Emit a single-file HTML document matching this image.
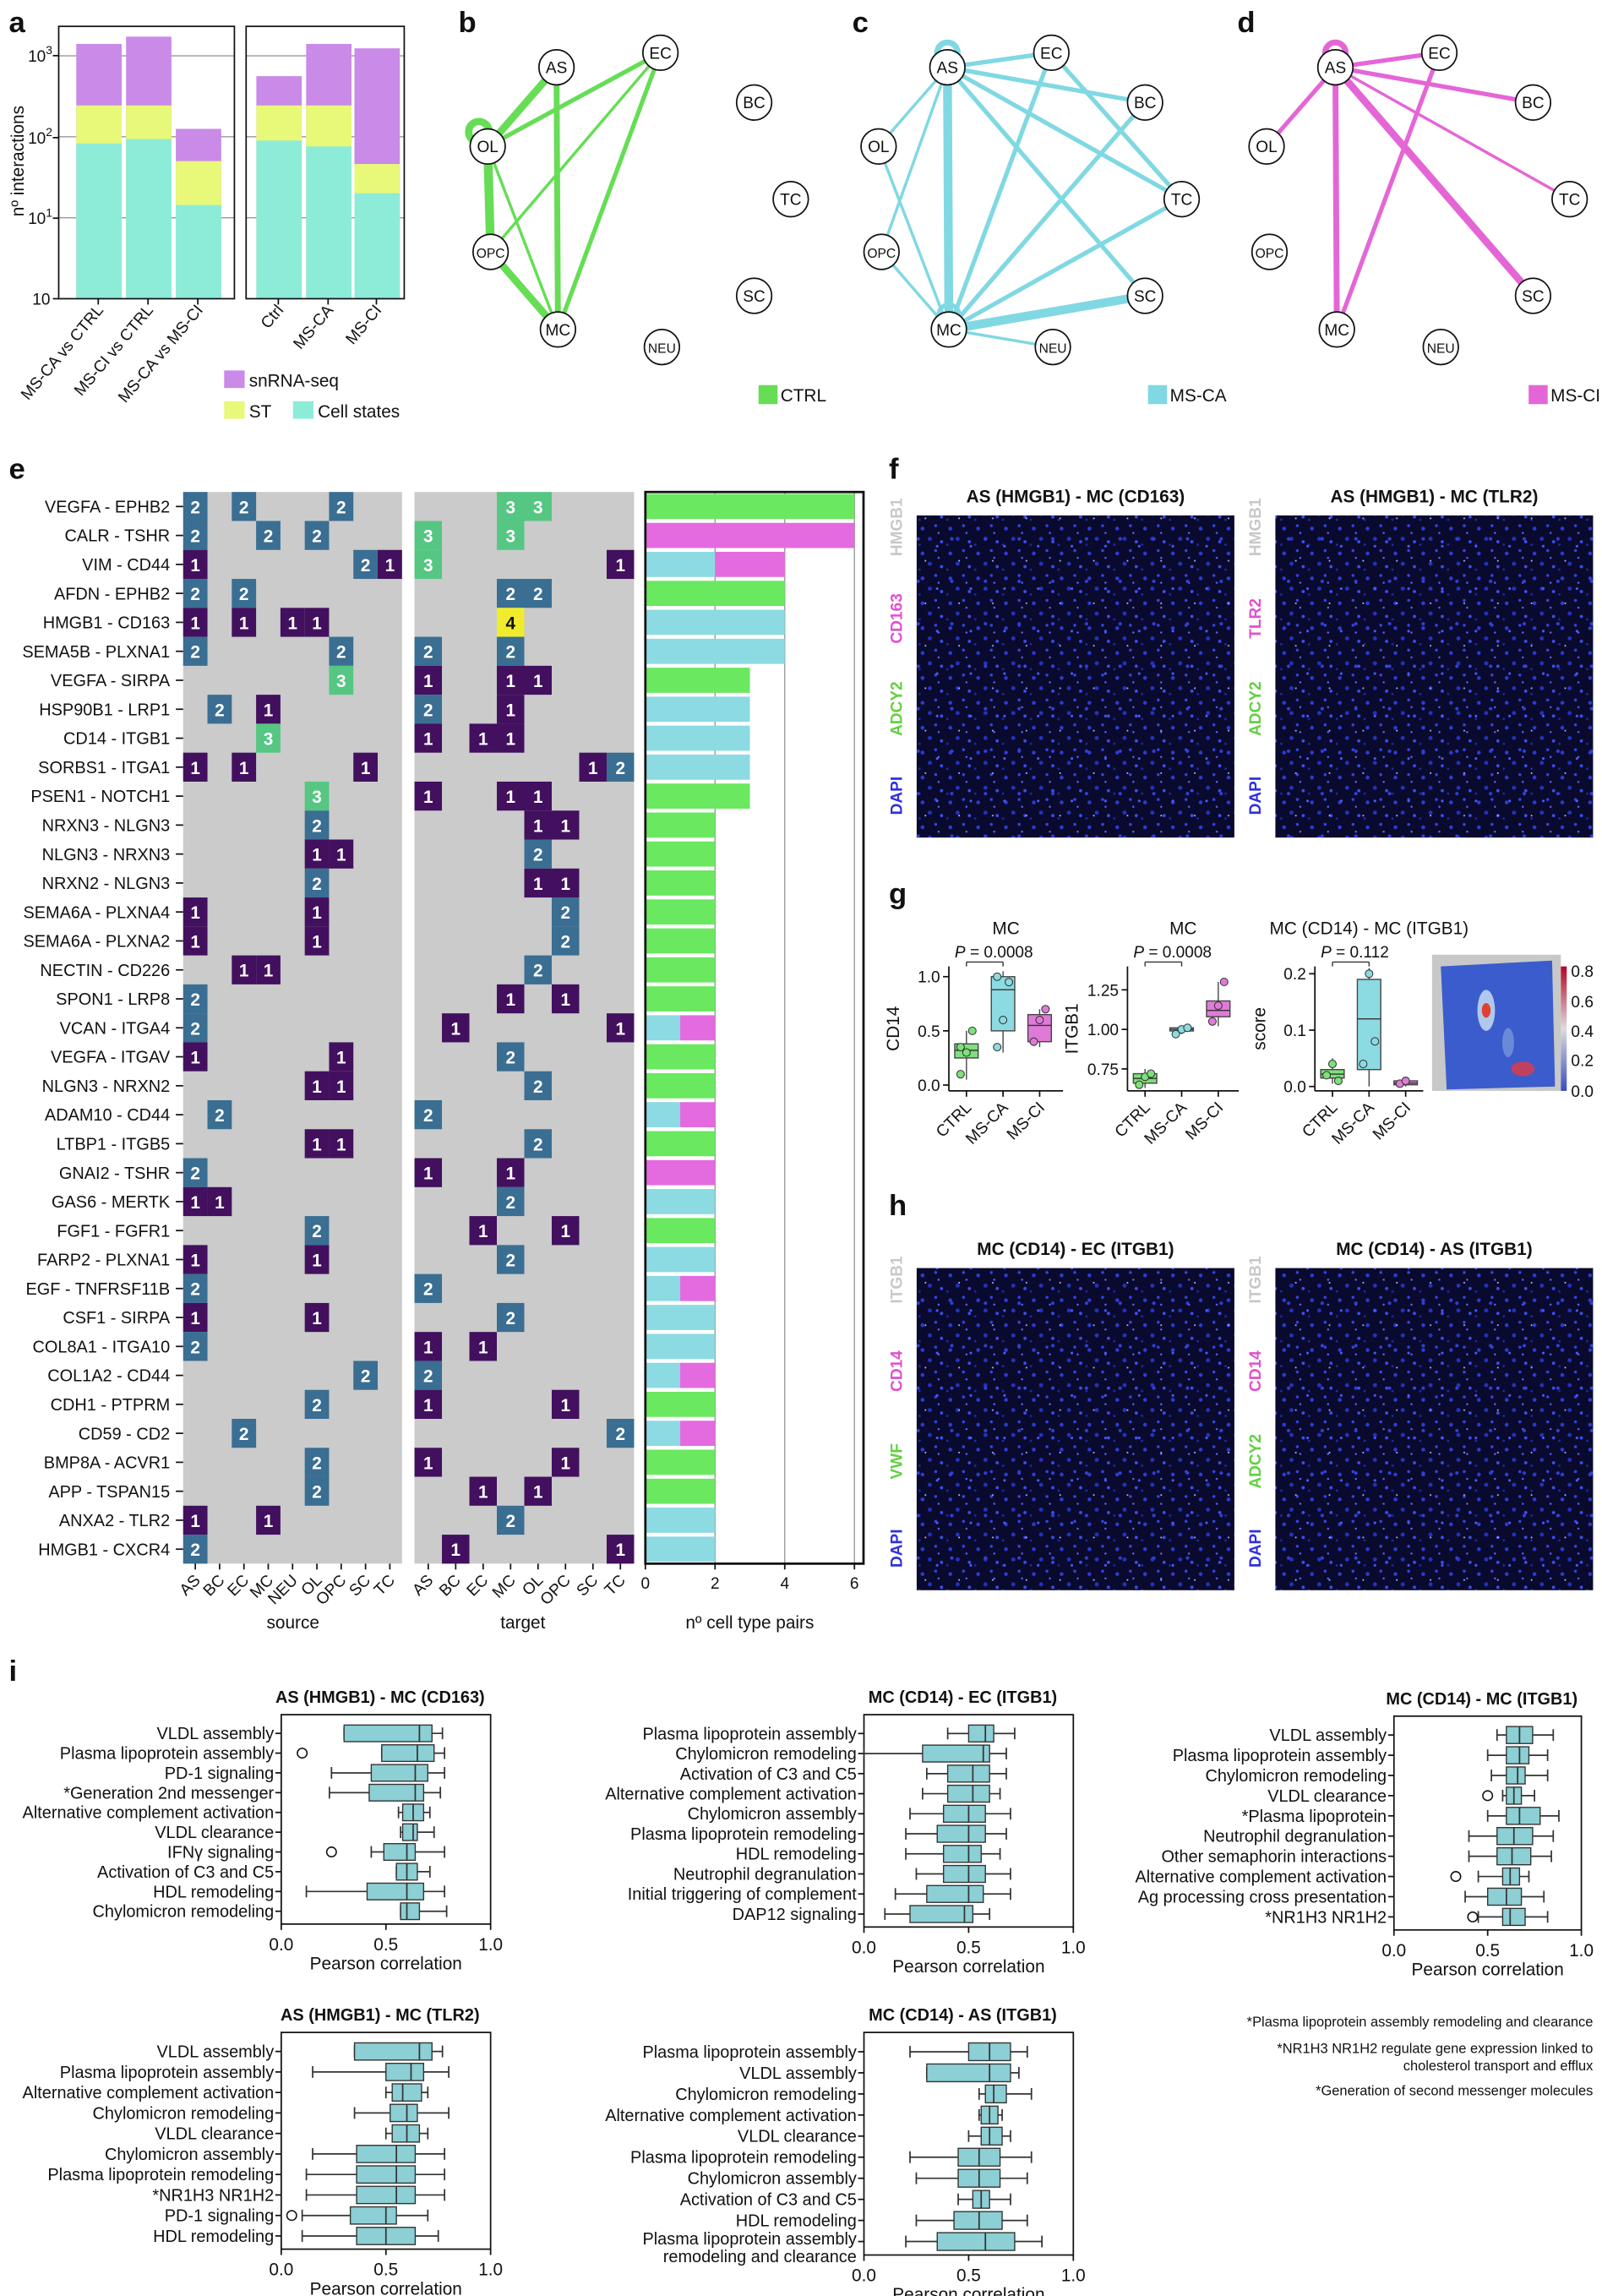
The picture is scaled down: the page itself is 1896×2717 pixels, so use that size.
<!DOCTYPE html>
<html><head><meta charset="utf-8"><style>
html,body{margin:0;padding:0;background:#fff;}
svg{display:block;font-family:"Liberation Sans",Arial,sans-serif;}
</style></head><body>
<svg id="s" width="1896" height="2717" viewBox="0 0 1094 1568" xmlns="http://www.w3.org/2000/svg">
<defs>
<pattern id="cells" width="19" height="17" patternUnits="userSpaceOnUse">
<rect width="19" height="17" fill="#0a0a2e"/>
<circle cx="3" cy="4" r="1.3" fill="#2a3dd8"/>
<circle cx="12" cy="2" r="1" fill="#3346e8"/>
<circle cx="8" cy="11" r="1.4" fill="#2233c0"/>
<circle cx="16" cy="13" r="1.1" fill="#3a50f0"/>
<circle cx="14" cy="7" r="0.7" fill="#5a6aff"/>
<circle cx="1" cy="15" r="0.8" fill="#1e2aa8"/>
</pattern>
<pattern id="cells2" width="23" height="29" patternUnits="userSpaceOnUse">
<rect width="23" height="29" fill="none"/>
<circle cx="6" cy="20" r="1.2" fill="#3040d8"/>
<circle cx="19" cy="25" r="0.9" fill="#4a5cff"/>
<circle cx="11" cy="6" r="0.6" fill="#aab0ff"/>
</pattern>
<linearGradient id="cb" x1="0" y1="1" x2="0" y2="0">
<stop offset="0" stop-color="#3b4cc0"/><stop offset="0.5" stop-color="#dddddd"/><stop offset="1" stop-color="#b40426"/>
</linearGradient>
</defs>
</svg>
<script>
const S=document.getElementById('s');
function E(t,a,txt,p){const e=document.createElementNS('http://www.w3.org/2000/svg',t);for(const k in a)e.setAttribute(k,a[k]);if(txt!==undefined)e.textContent=txt;(p||S).appendChild(e);return e;}
function T(x,y,s,o){o=o||{};const a={x:x,y:y,'font-size':o.fs||11,fill:o.fill||'#111','text-anchor':o.a||'start'};if(o.b)a['font-weight']='bold';if(o.tr)a.transform=o.tr;return E('text',a,s);}
function L(x1,y1,x2,y2,c,w){return E('line',{x1,y1,x2,y2,stroke:c||'#111','stroke-width':w||1});}
function R(x,y,w,h,f,o){o=o||{};const a={x,y,width:w,height:h,fill:f};if(o.s){a.stroke=o.s;a['stroke-width']=o.sw||1;}return E('rect',a);}
[['a',6,22],['b',313,22],['c',582,22],['d',845,22],['e',6,327],['f',607,327],['g',607,617],['h',607,830],['i',6,1148]].forEach(p=>T(p[1],p[2],p[0],{fs:20,b:1}));
// ---- panel a
const PUR='#c98ae8',YEL='#e8f878',CY='#8cecd8';
function yl(v){return 204-(Math.log10(v)-1)*55.3;}
[[40,160],[168,276]].forEach(b=>{[1,2,3].forEach(k=>L(b[0],yl(Math.pow(10,k+1)),b[1],yl(Math.pow(10,k+1)),'#999',0.8));});
const bars=[[52,98,72,30],[86,95,72,25],[120,140,110,88],[175,96,72,52],[209,100,72,30],[242,132,112,33]];
bars.forEach(b=>{R(b[0],b[3],31,204-b[3],PUR);R(b[0],b[2],31,204-b[2],YEL);R(b[0],b[1],31,204-b[1],CY);});
[[40,160],[168,276]].forEach(b=>R(b[0],18,b[1]-b[0],186,'none',{s:'#111'}));
[[204,'10'],[149,'10'],[94,'10'],[38,'10']].forEach((t,i)=>{L(36,t[0],40,t[0]);const e=T(i==0?22:19,t[0]+4,t[1],{fs:11});if(i>0)E('tspan',{dy:-5,'font-size':8},String(i),e);});
T(16,110,'nº interactions',{fs:12,a:'middle',tr:'rotate(-90 16 110)'});
[[67,'MS-CA vs CTRL'],[101,'MS-CI vs CTRL'],[135,'MS-CA vs MS-CI'],[190,'Ctrl'],[224,'MS-CA'],[257,'MS-CI']].forEach(t=>{L(t[0],204,t[0],208);T(t[0]+4,212,t[1],{fs:11,a:'end',tr:`rotate(-50 ${t[0]+4} 212)`});});
R(153,253,14,12,PUR);T(170,264,'snRNA-seq',{fs:12});
R(153,274,14,12,YEL);T(170,285,'ST',{fs:12});
R(200,274,14,12,CY);T(217,285,'Cell states',{fs:12});
// ---- networks
const N={AS:[380,46],EC:[451,36],BC:[515,70],OL:[333,100],TC:[540,136],OPC:[335,172],SC:[515,202],MC:[381,225],NEU:[452,237]};
function net(dx,col,edges,loops,leg,lx){
 edges.forEach(e=>{const a=N[e[0]],b=N[e[1]];L(a[0]+dx,a[1],b[0]+dx,b[1],col,e[2]);});
 loops.forEach(l=>{const a=N[l[0]];E('ellipse',{cx:a[0]+dx+(l[2]||0),cy:a[1]-10+(l[3]||0),rx:7,ry:7,fill:'none',stroke:col,'stroke-width':l[1]});});
 for(const k in N){const a=N[k];E('circle',{cx:a[0]+dx,cy:a[1],r:12,fill:'#fff',stroke:'#111','stroke-width':1});T(a[0]+dx,a[1]+4,k,{fs:k.length>2?9:11,a:'middle'});}
 R(lx,263,13,13,col);T(lx+15,274,leg,{fs:12});
}
net(0,'#66dd55',[['AS','OL',5],['OL','OPC',6],['OPC','MC',5],['AS','MC',4],['EC','OL',3],['EC','MC',3],['EC','OPC',2],['OL','MC',2]],[['OL',5,-6,0]],'CTRL',518);
net(267,'#80d8e2',[['AS','EC',3],['AS','BC',3],['AS','TC',3],['AS','SC',3],['AS','MC',6],['AS','OPC',2],['MC','OL',2],['MC','OPC',2],['MC','EC',3],['MC','BC',3],['MC','TC',3],['MC','SC',6],['MC','NEU',2],['EC','TC',3],['AS','OL',2]],[['AS',4,0,0],['MC',3,0,0]],'MS-CA',784);
net(532,'#e466d6',[['AS','EC',3],['AS','BC',3],['AS','TC',2],['AS','SC',5],['AS','MC',4],['AS','OL',3],['EC','MC',3]],[['AS',4,0,0]],'MS-CI',1044);
// ---- panel e
const rows=['VEGFA - EPHB2','CALR - TSHR','VIM - CD44','AFDN - EPHB2','HMGB1 - CD163','SEMA5B - PLXNA1','VEGFA - SIRPA','HSP90B1 - LRP1','CD14 - ITGB1','SORBS1 - ITGA1','PSEN1 - NOTCH1','NRXN3 - NLGN3','NLGN3 - NRXN3','NRXN2 - NLGN3','SEMA6A - PLXNA4','SEMA6A  - PLXNA2','NECTIN - CD226','SPON1 - LRP8','VCAN - ITGA4','VEGFA - ITGAV','NLGN3 - NRXN2','ADAM10 - CD44','LTBP1 - ITGB5','GNAI2 - TSHR','GAS6 - MERTK','FGF1 - FGFR1','FARP2 - PLXNA1','EGF - TNFRSF11B','CSF1 - SIRPA','COL8A1 - ITGA10','COL1A2 - CD44','CDH1 - PTPRM','CD59 - CD2','BMP8A - ACVR1','APP - TSPAN15','ANXA2 - TLR2','HMGB1 - CXCR4'];
const src=['AS','BC','EC','MC','NEU','OL','OPC','SC','TC'],tgt=['AS','BC','EC','MC','OL','OPC','SC','TC'];
const sd=[[['AS',2],['EC',2],['OPC',2]],[['AS',2],['MC',2],['OL',2]],[['AS',1],['SC',2],['TC',1]],[['AS',2],['EC',2]],[['AS',1],['EC',1],['NEU',1],['OL',1]],[['AS',2],['OPC',2]],[['OPC',3]],[['BC',2],['MC',1]],[['MC',3]],[['AS',1],['EC',1],['SC',1]],[['OL',3]],[['OL',2]],[['OL',1],['OPC',1]],[['OL',2]],[['AS',1],['OL',1]],[['AS',1],['OL',1]],[['EC',1],['MC',1]],[['AS',2]],[['AS',2]],[['AS',1],['OPC',1]],[['OL',1],['OPC',1]],[['BC',2]],[['OL',1],['OPC',1]],[['AS',2]],[['AS',1],['BC',1]],[['OL',2]],[['AS',1],['OL',1]],[['AS',2]],[['AS',1],['OL',1]],[['AS',2]],[['SC',2]],[['OL',2]],[['EC',2]],[['OL',2]],[['OL',2]],[['AS',1],['MC',1]],[['AS',2]]];
const td=[[['MC',3],['OL',3]],[['AS',3],['MC',3]],[['AS',3],['TC',1]],[['MC',2],['OL',2]],[['MC',4]],[['AS',2],['MC',2]],[['AS',1],['MC',1],['OL',1]],[['AS',2],['MC',1]],[['AS',1],['EC',1],['MC',1]],[['SC',1],['TC',2]],[['AS',1],['MC',1],['OL',1]],[['OL',1],['OPC',1]],[['OL',2]],[['OL',1],['OPC',1]],[['OPC',2]],[['OPC',2]],[['OL',2]],[['MC',1],['OPC',1]],[['BC',1],['TC',1]],[['MC',2]],[['OL',2]],[['AS',2]],[['OL',2]],[['AS',1],['MC',1]],[['MC',2]],[['EC',1],['OPC',1]],[['MC',2]],[['AS',2]],[['MC',2]],[['AS',1],['EC',1]],[['AS',2]],[['AS',1],['OPC',1]],[['TC',2]],[['AS',1],['OPC',1]],[['EC',1],['OL',1]],[['MC',2]],[['BC',1],['TC',1]]];
const HC={1:'#42105e',2:'#3a6e92',3:'#56c683',4:'#f0ec2c'};
const top0=336,rh=19.78;
R(125,top0,149.5,rh*37,'#cacbca');R(283,top0,150,rh*37,'#cacbca');
rows.forEach((r,i)=>{const y=top0+i*rh;T(116,y+14,r,{fs:11.5,a:'end'});L(120,y+rh/2,125,y+rh/2);
 sd[i].forEach(c=>{const x=125+src.indexOf(c[0])*16.61;R(x,y,16.61,rh,HC[c[1]]);T(x+8.3,y+14.5,c[1],{fs:12,b:1,a:'middle',fill:c[1]==4?'#111':'#fff'});});
 td[i].forEach(c=>{const x=283+tgt.indexOf(c[0])*18.75;R(x,y,18.75,rh,HC[c[1]]);T(x+9.4,y+14.5,c[1],{fs:12,b:1,a:'middle',fill:c[1]==4?'#111':'#fff'});});
});
const bot=top0+37*rh;
src.forEach((s,i)=>{const x=125+i*16.61+8.3;L(x,bot,x,bot+4);T(x+4,bot+12,s,{fs:11,a:'end',tr:`rotate(-45 ${x+4} ${bot+12})`});});
tgt.forEach((s,i)=>{const x=283+i*18.75+9.4;L(x,bot,x,bot+4);T(x+4,bot+12,s,{fs:11,a:'end',tr:`rotate(-45 ${x+4} ${bot+12})`});});
T(200,1112,'source',{fs:12,a:'middle'});T(357,1112,'target',{fs:12,a:'middle'});
const G='#6ae860',M='#e46ae0',C='#8cdae2';
const bd=[[[G,6]],[[M,6]],[[C,2],[M,2]],[[G,4]],[[C,4]],[[C,4]],[[G,3]],[[C,3]],[[C,3]],[[C,3]],[[G,3]],[[G,2]],[[G,2]],[[G,2]],[[G,2]],[[G,2]],[[G,2]],[[G,2]],[[C,1],[M,1]],[[G,2]],[[G,2]],[[C,1],[M,1]],[[G,2]],[[M,2]],[[C,2]],[[G,2]],[[C,2]],[[C,1],[M,1]],[[C,2]],[[C,2]],[[C,1],[M,1]],[[G,2]],[[C,1],[M,1]],[[G,2]],[[G,2]],[[C,2]],[[C,2]]];
const bx0=440.7,bu=23.8;
[2,4,6].forEach(k=>L(bx0+k*bu,top0,bx0+k*bu,bot,'#999',0.8));
bd.forEach((b,i)=>{let s=0;const y=top0+i*rh+1.3;b.forEach(p=>{R(bx0+s*bu,y,p[1]*bu,rh-2.6,p[0]);s+=p[1];});});
R(bx0,top0,149,bot-top0,'none',{s:'#111',sw:1.6});
[0,2,4,6].forEach(k=>{L(bx0+k*bu,bot,bx0+k*bu,bot+4);T(bx0+k*bu,bot+17,String(k),{fs:11,a:'middle'});});
T(512,1112,'nº cell type pairs',{fs:12,a:'middle'});
// ---- images f, h
function img(x,y,w,h,title,labs){R(x,y,w,h,'url(#cells)');R(x,y,w,h,'url(#cells2)');T(x+w/2,y-9,title,{fs:12,b:1,a:'middle'});
 const pos=[y+8,y+h*0.32,y+h*0.6,y+h*0.87];
 labs.forEach((l,i)=>{T(x-10,pos[i],l[0],{fs:11,b:1,a:'middle',fill:l[1],tr:`rotate(-90 ${x-10} ${pos[i]})`});});
}
img(626,352,217,220,'AS (HMGB1) -  MC (CD163)',[['HMGB1','#c8c8c8'],['CD163','#e050d0'],['ADCY2','#62d040'],['DAPI','#3030e0']]);
img(871,352,217,220,'AS (HMGB1) -  MC (TLR2)',[['HMGB1','#c8c8c8'],['TLR2','#e050d0'],['ADCY2','#62d040'],['DAPI','#3030e0']]);
img(626,866,217,220,'MC (CD14) - EC (ITGB1)',[['ITGB1','#c8c8c8'],['CD14','#e050d0'],['VWF','#62d040'],['DAPI','#3030e0']]);
img(871,866,217,220,'MC (CD14) - AS (ITGB1)',[['ITGB1','#c8c8c8'],['CD14','#e050d0'],['ADCY2','#62d040'],['DAPI','#3030e0']]);
// ---- panel g
function gbox(x0,x1,y0,y1,ticks,ymap,title,yl,boxes,p){
 L(x0,y0,x0,y1);L(x0,y1,x1,y1);
 ticks.forEach(t=>{const y=ymap(t[0]);L(x0-4,y,x0,y);T(x0-6,y+4,t[1],{fs:11,a:'end'});});
 T(x0-34,(y0+y1)/2,yl,{fs:12,a:'middle',tr:`rotate(-90 ${x0-34} ${(y0+y1)/2})`});
 T((x0+x1)/2,y0-22,title,{fs:12,a:'middle'});
 const cols=['#7de07a','#8cdae2','#e07ad8'],labs=['CTRL','MS-CA','MS-CI'];
 boxes.forEach((b,i)=>{const cx=x0+12+i*25;const yq1=ymap(b[0]),yq3=ymap(b[1]),ym=ymap(b[2]);
  L(cx,ymap(b[3]),cx,ymap(b[4]),'#444',0.8);R(cx-8,yq3,16,Math.max(1.5,yq1-yq3),cols[i],{s:'#444',sw:0.8});L(cx-8,ym,cx+8,ym,'#333',0.8);
  (b[5]||[]).forEach((v,k)=>E('circle',{cx:cx-4+(k%3)*4,cy:ymap(v),r:2.6,fill:cols[i],stroke:'#333','stroke-width':0.6}));
  L(cx,y1,cx,y1+4);T(cx+4,y1+12,labs[i],{fs:11,a:'end',tr:`rotate(-45 ${cx+4} ${y1+12})`});});
 L(x0+12,y0-3,x0+37,y0-3,'#333',0.8);L(x0+12,y0-3,x0+12,y0,'#333',0.8);L(x0+37,y0-3,x0+37,y0,'#333',0.8);
 const t=T(x0+4,y0-6,'',{fs:11});E('tspan',{'font-style':'italic'},'P',t);E('tspan',{},' = '+p,t);
}
gbox(648,726,660,745,[[1,'1.0'],[0.5,'0.5'],[0,'0.0']],v=>741-v*74,'MC','CD14',[[0.25,0.38,0.32,0.05,0.5,[0.1,0.3,0.5,0.35]],[0.5,1.0,0.88,0.3,1.05,[0.35,0.6,0.95,1.0]],[0.4,0.65,0.55,0.35,0.7,[0.4,0.6,0.7]]],'0.0008');
gbox(770,846,660,745,[[1.25,'1.25'],[1.0,'1.00'],[0.75,'0.75']],v=>730-(v-0.75)*108,'MC','ITGB1',[[0.66,0.72,0.69,0.63,0.75,[0.65,0.7,0.72]],[0.99,1.01,1.0,0.97,1.02,[0.97,1.0,1.01]],[1.08,1.18,1.12,1.02,1.3,[1.05,1.15,1.3]]],'0.0008');
gbox(898,972,660,745,[[0.2,'0.2'],[0.1,'0.1'],[0,'0.0']],v=>742-v*385,'MC (CD14) - MC (ITGB1)','score',[[0.015,0.03,0.022,0.005,0.05,[0.02,0.04,0.01]],[0.03,0.19,0.12,0.0,0.21,[0.04,0.2,0.08]],[0.003,0.01,0.006,0,0.015,[0.005,0.01]]],'0.112');
R(978,652,88,93,'#c8c8c8');
E('polygon',{points:'984,660 1060,656 1062,742 988,744',fill:'#3b5ccc'});
E('ellipse',{cx:1015,cy:690,rx:6,ry:14,fill:'#b0c8ee'});E('ellipse',{cx:1015,cy:690,rx:3,ry:5,fill:'#e04030'});
E('ellipse',{cx:1040,cy:730,rx:8,ry:5,fill:'#c04060'});E('ellipse',{cx:1030,cy:712,rx:4,ry:10,fill:'#6a8ad8'});
R(1066,660,4,85,'url(#cb)');
[[0.8,663],[0.6,684],[0.4,704],[0.2,724],[0.0,745]].forEach(t=>T(1073,t[1]+4,t[0].toFixed(1),{fs:11}));
// ---- panel i
function ibox(x0,y0,y1,title,data,w){
 w=w||143;R(x0,y0,w,y1-y0,'none',{s:'#111'});T(x0+w/2-4,y0-8,title,{fs:11.5,b:1,a:'middle'});
 const n=data.length,sp=(y1-y0-8)/n;
 data.forEach((d,i)=>{const y=y0+6+sp*(i+0.5);const X=v=>x0+v*w;
  L(x0-4,y,x0,y);
  if(Array.isArray(d[0])){T(x0-5,y+2,d[0][0],{fs:11.5,a:'end'});T(x0-5,y+14,d[0][1],{fs:11.5,a:'end'});}else T(x0-5,y+4,d[0],{fs:11.5,a:'end'});
  L(X(d[4]),y,X(d[5]),y,'#333');L(X(d[4]),y-4,X(d[4]),y+4,'#333');L(X(d[5]),y-4,X(d[5]),y+4,'#333');
  R(X(d[1]),y-sp*0.42,X(d[3])-X(d[1]),sp*0.84,'#8ccfd4',{s:'#333',sw:0.8});L(X(d[2]),y-sp*0.42,X(d[2]),y+sp*0.42,'#333');
  if(d[6]!==undefined)E('circle',{cx:X(d[6]),cy:y,r:3.3,fill:'none',stroke:'#111','stroke-width':0.9});
 });
 [0,0.5,1].forEach(t=>{L(x0+t*w,y1,x0+t*w,y1+4);T(x0+t*w,y1+18,t.toFixed(1),{fs:12,a:'middle'});});
 T(x0+w/2,y1+31,'Pearson correlation',{fs:12,a:'middle'});
}
ibox(192,1171,1314,'AS (HMGB1) - MC (CD163)',[['VLDL assembly',0.3,0.66,0.72,0.3,0.77],['Plasma lipoprotein assembly',0.48,0.65,0.73,0.48,0.78,0.1],['PD-1 signaling',0.43,0.64,0.7,0.24,0.78],['*Generation 2nd messenger',0.42,0.64,0.68,0.23,0.76],['Alternative complement activation',0.58,0.63,0.68,0.56,0.71],['VLDL clearance',0.58,0.63,0.65,0.57,0.73],['IFNγ signaling',0.49,0.6,0.64,0.43,0.78,0.24],['Activation of C3 and C5',0.55,0.6,0.65,0.55,0.71],['HDL remodeling',0.41,0.6,0.68,0.12,0.78],['Chylomicron remodeling',0.57,0.6,0.66,0.57,0.79]]);
ibox(590,1171,1316,'MC (CD14) - EC (ITGB1)',[['Plasma lipoprotein assembly',0.5,0.58,0.62,0.4,0.72],['Chylomicron remodeling',0.28,0.57,0.6,0.0,0.68],['Activation of C3 and C5',0.4,0.52,0.6,0.3,0.68],['Alternative complement activation',0.4,0.52,0.6,0.28,0.65],['Chylomicron assembly',0.38,0.5,0.58,0.22,0.7],['Plasma lipoprotein remodeling',0.35,0.5,0.58,0.2,0.68],['HDL remodeling',0.38,0.5,0.56,0.2,0.65],['Neutrophil degranulation',0.38,0.5,0.58,0.25,0.7],['Initial triggering of complement',0.3,0.5,0.57,0.15,0.7],['DAP12 signaling',0.22,0.48,0.52,0.1,0.6]]);
ibox(952,1172,1318,'MC (CD14) - MC (ITGB1)',[['VLDL assembly',0.6,0.67,0.74,0.55,0.85],['Plasma lipoprotein assembly',0.6,0.67,0.72,0.5,0.82],['Chylomicron remodeling',0.6,0.66,0.7,0.52,0.82],['VLDL clearance',0.6,0.64,0.68,0.58,0.75,0.5],['*Plasma lipoprotein',0.6,0.67,0.78,0.5,0.88],['Neutrophil degranulation',0.55,0.64,0.74,0.4,0.85],['Other semaphorin interactions',0.55,0.63,0.73,0.4,0.84],['Alternative complement activation',0.58,0.62,0.67,0.45,0.72,0.33],['Ag processing cross presentation',0.5,0.6,0.68,0.38,0.8],['*NR1H3 NR1H2',0.58,0.62,0.7,0.45,0.82,0.42]],128);
ibox(192,1388,1536,'AS (HMGB1) - MC (TLR2)',[['VLDL assembly',0.35,0.66,0.72,0.35,0.77],['Plasma lipoprotein assembly',0.5,0.62,0.68,0.15,0.8],['Alternative complement activation',0.53,0.58,0.67,0.5,0.7],['Chylomicron remodeling',0.52,0.6,0.65,0.35,0.8],['VLDL clearance',0.53,0.6,0.66,0.5,0.7],['Chylomicron assembly',0.36,0.55,0.64,0.15,0.78],['Plasma lipoprotein remodeling',0.36,0.55,0.64,0.12,0.78],['*NR1H3 NR1H2',0.36,0.55,0.64,0.12,0.78],['PD-1 signaling',0.33,0.5,0.55,0.1,0.7,0.05],['HDL remodeling',0.36,0.5,0.64,0.1,0.75]]);
ibox(590,1388,1540,'MC (CD14) - AS (ITGB1)',[['Plasma lipoprotein assembly',0.5,0.6,0.7,0.22,0.78],['VLDL assembly',0.3,0.6,0.7,0.3,0.74],['Chylomicron remodeling',0.58,0.62,0.68,0.55,0.8],['Alternative complement activation',0.56,0.6,0.64,0.55,0.66],['VLDL clearance',0.56,0.6,0.66,0.5,0.7],['Plasma lipoprotein remodeling',0.45,0.55,0.65,0.22,0.8],['Chylomicron assembly',0.45,0.55,0.65,0.25,0.78],['Activation of C3 and C5',0.52,0.56,0.6,0.45,0.7],['HDL remodeling',0.43,0.55,0.66,0.25,0.78],[['Plasma lipoprotein assembly','remodeling and clearance'],0.35,0.58,0.72,0.2,0.85]]);
[[1384,'*Plasma lipoprotein assembly remodeling and clearance'],[1402,'*NR1H3 NR1H2 regulate gene expression linked to'],[1414,'cholesterol transport and efflux'],[1431,'*Generation of second messenger molecules']].forEach(t=>T(1088,t[0],t[1],{fs:9.5,a:'end'}));
</script>
</body></html>
